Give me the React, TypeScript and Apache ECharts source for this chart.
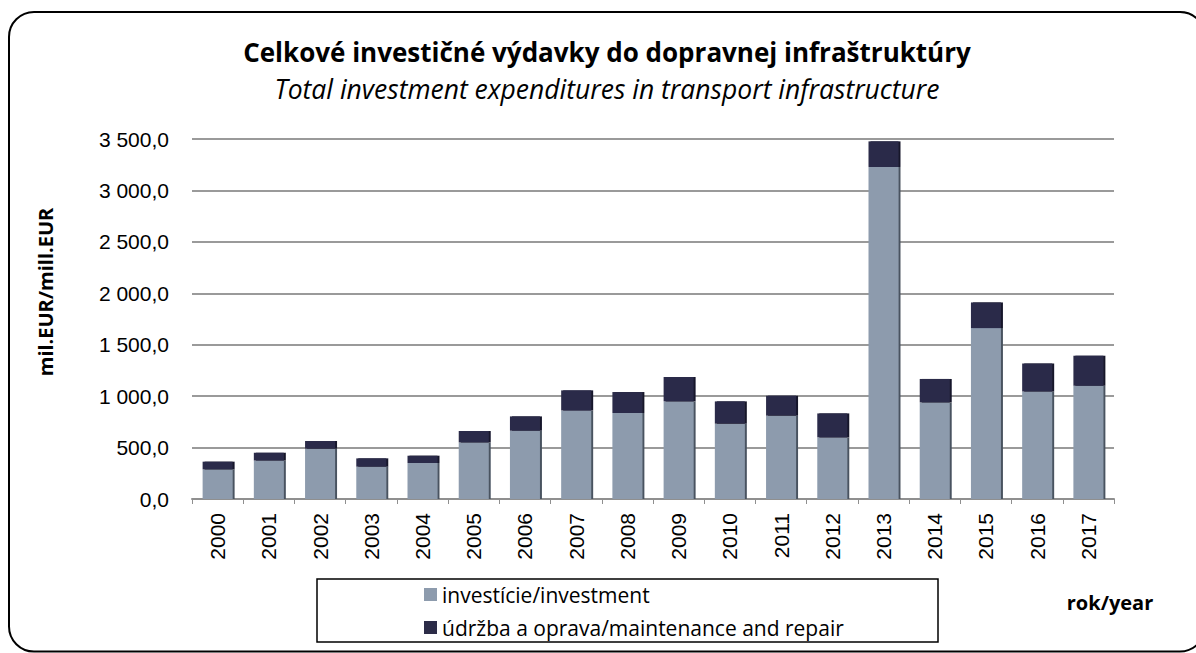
import React, { useEffect, useRef } from "react";
import * as echarts from "echarts";

const years = ["2000","2001","2002","2003","2004","2005","2006","2007","2008","2009","2010","2011","2012","2013","2014","2015","2016","2017"];
const investment = [288, 375, 489, 314, 350, 550, 664, 861, 836, 949, 732, 810, 599, 3228, 939, 1662, 1046, 1101];
const maintenance = [75, 75, 75, 81, 71, 111, 139, 195, 204, 237, 217, 194, 233, 249, 228, 249, 272, 292];
const seriesNames = ["investície/investment", "údržba a oprava/maintenance and repair"];
const titleText = "Celkové investičné výdavky do dopravnej infraštruktúry";
const subtitleText = "Total investment expenditures in transport infrastructure";
const yAxisName = "mil.EUR/mill.EUR";
const xAxisName = "rok/year";

const fmt = (v: number) => {
  const s = v.toFixed(1).replace(".", ",");
  const [i, d] = s.split(",");
  return i.replace(/\B(?=(\d{3})+(?!\d))/g, " ") + "," + d;
};

export default function App() {
  const ref = useRef<HTMLDivElement>(null);
  useEffect(() => {
    document.body.style.margin = "0";
    const chart = echarts.init(ref.current!, undefined, { renderer: "svg" });
    const labelFont = "'Liberation Sans', Arial, sans-serif";
    const titleFont = "'Open Sans', Lato, sans-serif";
    chart.setOption({
      animation: false,
      backgroundColor: "#fff",
      grid: { left: 192, top: 139, width: 922, height: 360, containLabel: false },
      legend: {
        orient: "vertical",
        left: 424,
        top: 584,
        padding: 0,
        itemGap: 12,
        itemWidth: 13,
        itemHeight: 13,
        icon: "rect",
        textStyle: { fontFamily: titleFont, fontSize: 21, color: "#000" },
        data: seriesNames,
      },
      xAxis: {
        type: "category",
        data: years,
        axisLine: { lineStyle: { color: "#8f8f8f", width: 2 } },
        axisTick: { show: true, length: 5, lineStyle: { color: "#8f8f8f", width: 1 } },
        axisLabel: { rotate: 90, margin: 14, fontSize: 21, color: "#000", fontFamily: labelFont },
      },
      yAxis: {
        type: "value",
        min: 0,
        max: 3500,
        interval: 500,
        axisLine: { show: false },
        axisTick: { show: false },
        splitLine: { lineStyle: { color: "#9a9a9a", width: 2 } },
        axisLabel: { formatter: fmt, margin: 23, fontSize: 21, color: "#000", fontFamily: labelFont },
      },
      series: [
        {
          name: seriesNames[0],
          type: "bar",
          stack: "total",
          barWidth: 30,
          data: investment,
          itemStyle: { color: "#8d9bad", shadowColor: "#4a5261", shadowOffsetX: 2, shadowOffsetY: 0, shadowBlur: 0 },
        },
        {
          name: seriesNames[1],
          type: "bar",
          stack: "total",
          barWidth: 30,
          data: maintenance,
          itemStyle: { color: "#2c2c48", shadowColor: "#16162a", shadowOffsetX: 2, shadowOffsetY: 0, shadowBlur: 0 },
        },
      ],
      graphic: [
        {
          type: "rect",
          shape: { x: 9, y: 12, width: 1196, height: 639.5, r: 25 },
          style: { fill: "none", stroke: "#000", lineWidth: 2 },
          silent: true,
        },
        {
          type: "rect",
          shape: { x: 317, y: 579, width: 621, height: 63 },
          style: { fill: "none", stroke: "#000", lineWidth: 1.5 },
          silent: true,
        },
        {
          type: "text",
          x: 607,
          y: 52,
          style: { text: titleText, textAlign: "center", textVerticalAlign: "middle", font: `bold 26px ${titleFont}`, fill: "#000" },
        },
        {
          type: "text",
          x: 607,
          y: 89,
          style: { text: subtitleText, textAlign: "center", textVerticalAlign: "middle", font: `italic 26.5px ${titleFont}`, fill: "#000" },
        },
        {
          type: "text",
          x: 45,
          y: 292,
          rotation: Math.PI / 2,
          style: { text: yAxisName, textAlign: "center", textVerticalAlign: "middle", font: `bold 20px ${titleFont}`, fill: "#000" },
        },
        {
          type: "text",
          x: 1110,
          y: 602,
          style: { text: xAxisName, textAlign: "center", textVerticalAlign: "middle", font: `bold 20px ${titleFont}`, fill: "#000" },
        },
      ],
    });
    return () => chart.dispose();
  }, []);
  return <div ref={ref} style={{ width: 1196, height: 653 }} />;
}
